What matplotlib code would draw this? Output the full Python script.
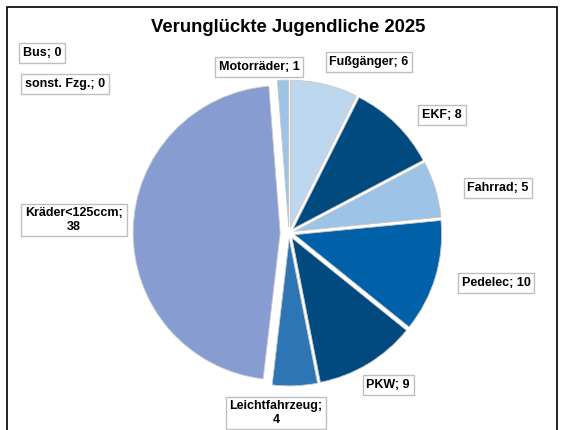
import matplotlib.pyplot as plt
from matplotlib.patches import Rectangle

plt.rcParams['font.family'] = ['Liberation Sans', 'DejaVu Sans']

# data, clockwise from 12 o'clock
categories = ["Fußgänger", "EKF", "Fahrrad", "Pedelec", "PKW",
              "Leichtfahrzeug", "Kräder<125ccm", "sonst. Fzg.", "Bus", "Motorräder"]
values = [6, 8, 5, 10, 9, 4, 38, 0, 0, 1]
label_texts = ["Fußgänger; 6", "EKF; 8", "Fahrrad; 5", "Pedelec; 10", "PKW; 9",
               "Leichtfahrzeug;\n4", "Kräder<125ccm;\n38", "sonst. Fzg.; 0", "Bus; 0",
               "Motorräder; 1"]
colors = ["#BDD7EE", "#004A80", "#9DC3E6", "#0060A8", "#004A80",
          "#2E75B6", "#879DD2", "#9DC3E6", "#2E75B6", "#9DC3E6"]
explode = [0.04, 0.04, 0.04, 0.04, 0.04, 0.04, 0.06, 0.0, 0.0, 0.04]

# label centres in pixels (top-left origin)
label_pos = [(369, 62), (442, 115), (498, 188), (496, 283), (388, 385),
             (276, 413), (74, 220), (65, 84), (42, 53), (259, 67)]

W, H = 564, 430
fig = plt.figure(figsize=(W / 100, H / 100), dpi=100)

cx, cy, r = 289, 233, 147
ax = fig.add_axes([(cx - r) / W, (H - cy - r) / H, 2 * r / W, 2 * r / H])
wedges, _ = ax.pie(values, colors=colors, explode=explode, startangle=90,
                   counterclock=False,
                   wedgeprops=dict(edgecolor="#C8C8C8", linewidth=0.6))
for w, v in zip(wedges, values):
    if v == 0:
        w.set_visible(False)
ax.set_xlim(-1, 1)
ax.set_ylim(-1, 1)
ax.set_aspect("auto")
ax.axis("off")

for txt, (px, py) in zip(label_texts, label_pos):
    fig.text(px / W, 1 - py / H, txt, ha="center", va="center",
             fontsize=9, fontweight="bold", linespacing=1.15,
             bbox=dict(boxstyle="square,pad=0.3", facecolor="white",
                       edgecolor="#BFBFBF", linewidth=1))

fig.text(288 / W, 1 - 28 / H, "Verunglückte Jugendliche 2025",
         ha="center", va="center", fontsize=13.3, fontweight="bold")

fig.patches.append(Rectangle((7 / W, -0.05), 550 / W, 1.05 - 7 / H,
                             transform=fig.transFigure, fill=False,
                             edgecolor="black", linewidth=1.2))

fig.savefig("out.png", dpi=100)
